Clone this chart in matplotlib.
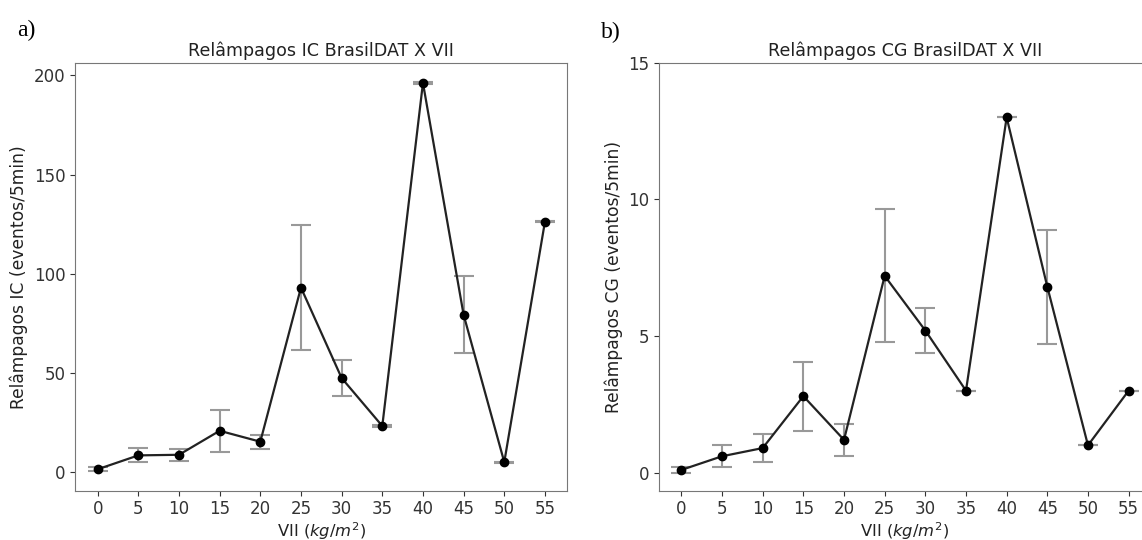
import numpy as np
import matplotlib.pyplot as plt

# VII classes (kg/m2)
vii = [0, 5, 10, 15, 20, 25, 30, 35, 40, 45, 50, 55]

# IC flashes (events/5min)
ic_mean = [1.4, 8.4, 8.7, 20.8, 15.3, 93.0, 47.4, 23.2, 196.2, 79.3, 5.0, 126.2]
ic_err = [1.0, 3.5, 3.1, 10.6, 3.5, 31.5, 9.1, 0.4, 0.4, 19.4, 0.3, 0.3]

# CG flashes (events/5min)
cg_mean = [0.1, 0.6, 0.9, 2.8, 1.2, 7.2, 5.2, 3.0, 13.0, 6.8, 1.0, 3.0]
cg_err = [0.11, 0.4, 0.51, 1.26, 0.59, 2.43, 0.82, 0.0, 0.0, 2.08, 0.0, 0.0]

fig = plt.figure(figsize=(11.42, 5.40), dpi=100)
W, H = 1142, 540
ax1 = fig.add_axes([75.3 / W, (H - 490.7) / H, 492 / W, 428 / H])
ax2 = fig.add_axes([659 / W, (H - 490.7) / H, 492 / W, 428 / H])


def draw(ax, y, err, title, ylabel):
    ax.errorbar(vii, y, yerr=err, fmt='none', ecolor='#999999', elinewidth=1.5,
                capsize=7, capthick=1.5, zorder=1)
    ax.plot(vii, y, color='#222222', marker='o', markersize=6,
            markerfacecolor='black', markeredgecolor='black', linewidth=1.6, zorder=2)
    ax.set_xticks(vii)
    ax.set_title(title, fontsize=12.6, color='#222222', pad=5)
    ax.set_xlabel('VII ($kg/m^2$)', color='#222222', fontsize=11.8, labelpad=1)
    ax.set_ylabel(ylabel, color='#222222', fontsize=12.3)
    ax.tick_params(colors='#333333', labelsize=12)
    for s in ax.spines.values():
        s.set_color('#777777')


draw(ax1, ic_mean, ic_err, 'Relâmpagos IC BrasilDAT X VII', 'Relâmpagos IC (eventos/5min)')
draw(ax2, cg_mean, cg_err, 'Relâmpagos CG BrasilDAT X VII', 'Relâmpagos CG (eventos/5min)')
ax1.set_yticks([0, 50, 100, 150, 200])
ax2.set_yticks([0, 5, 10, 15])
ax2.set_ylim(-0.66, 15)

fig.text(17 / W, 1 - 36 / H, 'a)', family='Liberation Serif', fontsize=17)
fig.text(601 / W, 1 - 38 / H, 'b)', family='Liberation Serif', fontsize=17)

fig.savefig('out.png', dpi=100)
